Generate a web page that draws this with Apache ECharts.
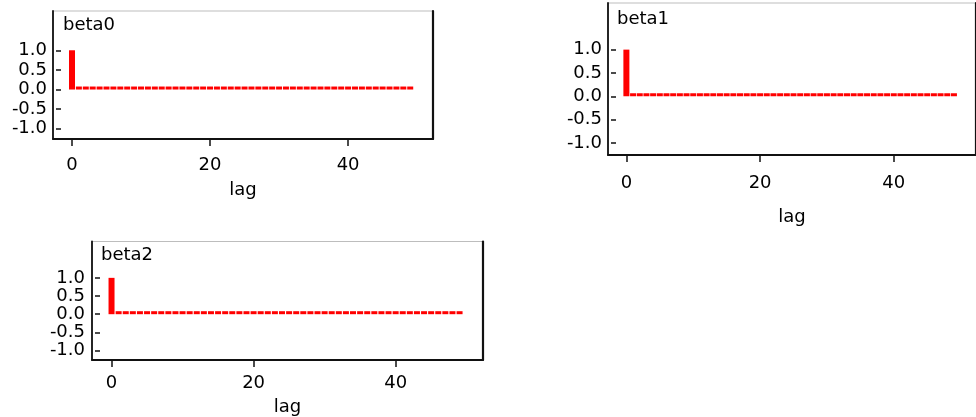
<!DOCTYPE html>
<html><head><meta charset="utf-8">
<script src="https://cdn.jsdelivr.net/npm/echarts@6/dist/echarts.min.js"></script>
<style>html,body{margin:0;padding:0;background:#fff}#c{width:976px;height:417px}</style>
</head><body><div id="c"></div>
<script>
// ---- data ----
const lags = [0,1,2,3,4,5,6,7,8,9,10,11,12,13,14,15,16,17,18,19,20,21,22,23,24,25,26,27,28,29,30,31,32,33,34,35,36,37,38,39,40,41,42,43,44,45,46,47,48,49];
const beta0 = [1.0,0.012,0.008,0.015,0.011,0.006,0.018,0.014,0.009,0.005,0.013,0.017,0.004,0.011,0.009,0.016,0.012,0.007,0.002,0.015,0.010,0.006,0.014,0.010,0.005,0.012,0.016,0.008,0.003,0.011,0.013,0.006,0.015,0.007,0.009,0.012,0.004,0.013,0.008,0.010,0.014,0.003,0.012,0.009,0.007,0.016,0.011,0.005,0.006,0.010];
const beta1 = [1.0,0.010,0.014,0.006,0.012,0.003,0.009,0.015,0.011,0.007,0.013,0.005,0.010,0.016,0.008,0.012,0.004,0.011,0.014,0.009,0.006,0.013,0.010,0.015,0.007,0.011,0.005,0.012,0.009,0.014,0.006,0.010,0.013,0.008,0.011,0.004,0.012,0.015,0.009,0.007,0.013,0.010,0.006,0.012,0.014,0.008,0.011,0.009,0.005,0.010];
const beta2 = [1.0,0.011,0.007,0.013,0.009,0.015,0.006,0.012,0.010,0.014,0.008,0.011,0.005,0.013,0.016,0.009,0.012,0.007,0.010,0.014,0.011,0.006,0.013,0.009,0.015,0.008,0.012,0.010,0.005,0.013,0.011,0.014,0.007,0.012,0.009,0.006,0.013,0.010,0.015,0.008,0.011,0.012,0.006,0.014,0.009,0.010,0.013,0.007,0.011,0.008];
const panelNames = ['beta0','beta1','beta2'];
const panelValues = [beta0, beta1, beta2];
const yTicks = [-1.0,-0.5,0.0,0.5,1.0];
const xTicks = [0,20,40];
const xName = 'lag';

// ---- layout / style ----
const FONT = 'DejaVu Sans';
const FS = 18;
const layouts = [
  {left:53,  top:11,    width:380, height:128,   tickX:61,  yMargin:14, xMargin:17.5, nameGap:42, tLeft:63,  tTop:16.5},
  {left:608, top:3,     width:379, height:152,   tickX:616, yMargin:14, xMargin:19.5, nameGap:53, tLeft:617, tTop:10.5},
  {left:92,  top:241.5, width:391, height:118.5, tickX:100, yMargin:15, xMargin:14.5, nameGap:38, tLeft:101, tTop:246.5}
];
const X_MIN = -2.75, X_MAX = 52.3, Y_MIN = -1.26, Y_MAX = 2.0;
const dark = '#111';
const txt = {fontFamily:FONT, fontSize:FS, color:'#000'};

const option = {
  animation:false,
  backgroundColor:'#fff',
  title:[], grid:[], xAxis:[], yAxis:[], series:[]
};

layouts.forEach((L, i) => {
  option.title.push({
    text: panelNames[i], left: L.tLeft, top: L.tTop, padding: 0,
    textStyle:Object.assign({fontWeight:'normal'}, txt)
  });
  // frame grid (holds the bars)
  option.grid.push({
    left:L.left, top:L.top, width:L.width, height:L.height,
    show:true, borderColor:'#bdbdbd', borderWidth:1, backgroundColor:'transparent'
  });
  // thin helper grid whose left edge carries the y ticks (inside the frame)
  option.grid.push({
    left:L.tickX, top:L.top, width:10, height:L.height, show:false
  });
  option.xAxis.push({
    type:'value', gridIndex:2*i, min:X_MIN, max:X_MAX, position:'bottom',
    name:xName, nameLocation:'middle', nameGap:L.nameGap,
    nameTextStyle:txt,
    axisLine:{show:true, onZero:false, lineStyle:{color:dark, width:1.8}},
    axisTick:{show:true, length:7, customValues:xTicks, lineStyle:{color:dark, width:1.5}},
    axisLabel:Object.assign({show:true, customValues:xTicks, margin:L.xMargin,
      formatter:v => String(v)}, txt),
    splitLine:{show:false}
  });
  option.xAxis.push({
    type:'value', gridIndex:2*i+1, min:0, max:1, show:false
  });
  // y ticks + labels
  option.yAxis.push({
    type:'value', gridIndex:2*i+1, min:Y_MIN, max:Y_MAX, position:'left',
    axisLine:{show:false},
    axisTick:{show:true, length:5, customValues:yTicks, lineStyle:{color:dark, width:1.5}},
    axisLabel:Object.assign({show:true, customValues:yTicks, margin:L.yMargin,
      padding:[3,0,0,0], formatter:v => v.toFixed(1)}, txt),
    splitLine:{show:false}
  });
  // left frame line
  option.yAxis.push({
    type:'value', gridIndex:2*i, min:Y_MIN, max:Y_MAX, position:'left',
    axisLine:{show:true, onZero:false, lineStyle:{color:dark, width:1.8}},
    axisTick:{show:false}, axisLabel:{show:false}, splitLine:{show:false}
  });
  // right frame line
  option.yAxis.push({
    type:'value', gridIndex:2*i, min:Y_MIN, max:Y_MAX, position:'right',
    axisLine:{show:true, onZero:false, lineStyle:{color:dark, width:2.2}},
    axisTick:{show:false}, axisLabel:{show:false}, splitLine:{show:false}
  });
  option.series.push({
    type:'bar', name:panelNames[i], xAxisIndex:2*i, yAxisIndex:3*i+1,
    data: lags.map((lag, k) => [lag, panelValues[i][k]]),
    barWidth:6, barMinHeight:3, silent:true,
    itemStyle:{color:'#ff0000'}
  });
});

const chart = echarts.init(document.getElementById('c'), null, {renderer:'canvas'});
chart.setOption(option);
</script></body></html>
